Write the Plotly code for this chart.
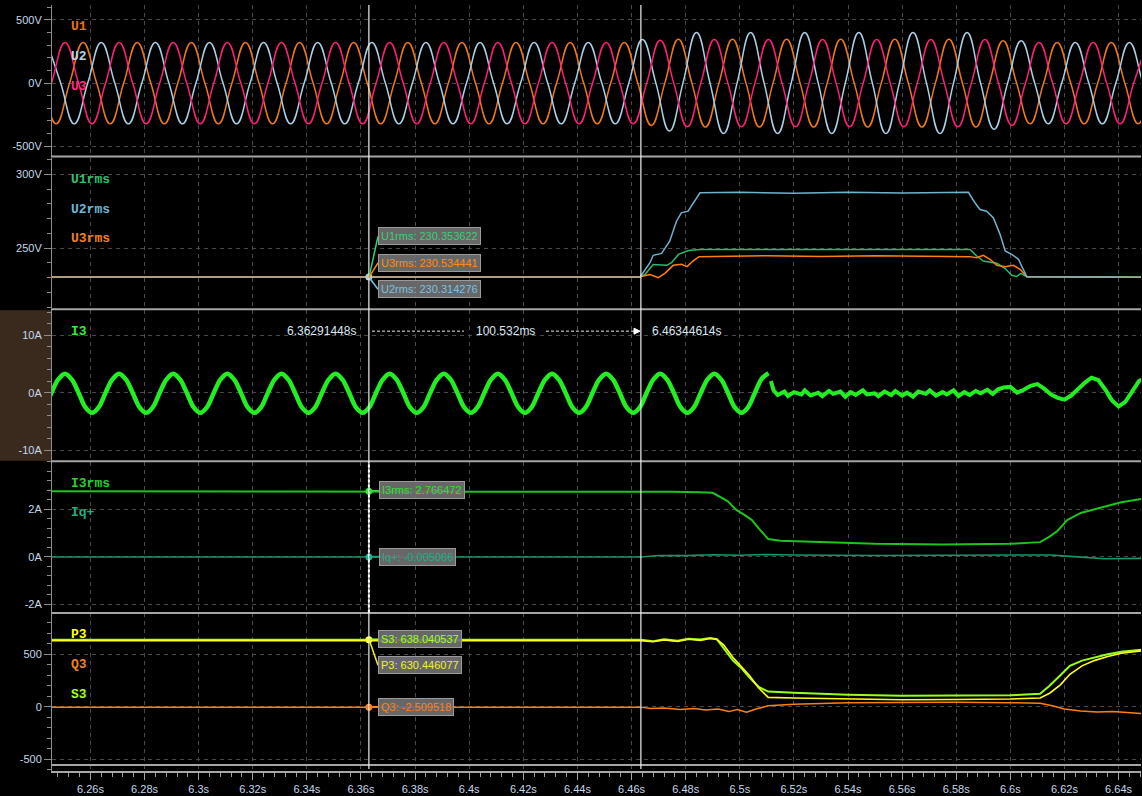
import plotly.graph_objects as go

# ======================= DATA =======================
x_range = [6.245795, 6.648293]
x_tick_vals = [6.26, 6.28, 6.30, 6.32, 6.34, 6.36, 6.38, 6.40, 6.42, 6.44,
               6.46, 6.48, 6.50, 6.52, 6.54, 6.56, 6.58, 6.60, 6.62, 6.64]
x_tick_text = ["6.26s", "6.28s", "6.3s", "6.32s", "6.34s", "6.36s", "6.38s", "6.4s", "6.42s", "6.44s",
               "6.46s", "6.48s", "6.5s", "6.52s", "6.54s", "6.56s", "6.58s", "6.6s", "6.62s", "6.64s"]

cursor_a = 6.36291448
cursor_b = 6.46344614
cursor_a_label = "6.36291448s"
cursor_b_label = "6.46344614s"
cursor_delta_label = "100.532ms"

half_cycle = 0.01  # time between successive half-cycle peaks (50 Hz)

# phase voltages: signed half-cycle peak values (V), first peak time given
u1_first_peak = 6.2373
u1_peaks = [322, -322, 322, -322, 322, -322, 322, -322, 322, -322, 322, -322,
            322, -322, 322, -322, 322, -322, 322, -322, 322, -322, 322,
            -335, 348, -348, 348, -348, 348, -348, 348, -348, 348, -348, 348, -348,
            335, -322, 322, -322, 322, -322, 322]
u2_first_peak = 6.2440
u2_peaks = [322, -322, 322, -322, 322, -322, 322, -322, 322, -322, 322,
            -322, 322, -322, 322, -322, 322, -322, 322, -322, 322, -322,
            345, -380, 400, -400, 400, -400, 400, -400, 400, -400, 400, -400, 400,
            -365, 335, -322, 322, -322, 322, -322, 322]
u3_first_peak = 6.2306
u3_peaks = [322, -322, 322, -322, 322, -322, 322, -322, 322, -322, 322, -322,
            322, -322, 322, -322, 322, -322, 322, -322, 322, -322, 322, -322,
            340, -345, 345, -345, 345, -345, 345, -345, 345, -345, 345, -345, 345,
            -335, 322, -322, 322, -322, 322]

# phase current I3 (A), read every 2.5 ms from the first rising zero crossing
i3_start = 6.2256
i3_step = 0.0025
i3_values = [0, 2.3, 3.3, 2.3, 0, -2.5, -3.5, -2.5,
             0, 2.3, 3.3, 2.3, 0, -2.5, -3.5, -2.5,
             0, 2.3, 3.3, 2.3, 0, -2.5, -3.5, -2.5,
             0, 2.3, 3.3, 2.3, 0, -2.5, -3.5, -2.5,
             0, 2.3, 3.3, 2.3, 0, -2.5, -3.5, -2.5,
             0, 2.3, 3.3, 2.3, 0, -2.5, -3.5, -2.5,
             0, 2.3, 3.3, 2.3, 0, -2.5, -3.5, -2.5,
             0, 2.3, 3.3, 2.3, 0, -2.5, -3.5, -2.5,
             0, 2.3, 3.3, 2.3, 0, -2.5, -3.5, -2.5,
             0, 2.3, 3.3, 2.3, 0, -2.5, -3.5, -2.5,
             0, 2.3, 3.3, 2.3, 0, -2.5, -3.5, -2.5,
             0, 2.3, 3.3, 2.3, 0, -2.5, -3.5, -2.5,
             0, 2.3, 3.3, 2.3, 0, -2.5, -3.5, -2.5,
             0, 2.3, 3.3, 2.3, 0, -2.5, -3.5, -2.5,
             0, 2.4, 3.4]
i3_tail_t = [6.5115, 6.5125, 6.5140, 6.5165, 6.5178, 6.5200, 6.5228, 6.5240, 6.5262, 6.5290,
             6.5305, 6.5330, 6.5345, 6.5372, 6.5390, 6.5410, 6.5428, 6.5455, 6.5470, 6.5498,
             6.5512, 6.5535, 6.5560, 6.5575, 6.5600, 6.5618, 6.5640, 6.5660, 6.5688, 6.5702,
             6.5725, 6.5750, 6.5765, 6.5790, 6.5808, 6.5830, 6.5850, 6.5872, 6.5890, 6.5915,
             6.5935, 6.5955, 6.5975, 6.6000, 6.6025, 6.6050, 6.6075, 6.6100,
             6.6125, 6.6150, 6.6175, 6.6200, 6.6225, 6.6250, 6.6275, 6.6300, 6.6325, 6.6350,
             6.6375, 6.6400, 6.6425, 6.6450, 6.6475, 6.6500]
i3_tail_v = [2.0, 0.4, -0.4, 0.2, -0.6, 0.1, -0.3, 0.4, -0.5, 0.0,
             -0.6, 0.3, -0.2, 0.2, -0.7, 0.1, -0.4, 0.4, -0.3, -0.1,
             -0.6, 0.2, -0.4, 0.3, -0.5, 0.0, -0.7, 0.2, -0.2, 0.4,
             -0.5, 0.1, -0.3, 0.4, -0.6, 0.1, -0.4, 0.3, -0.1, 0.5,
             -0.2, 0.6, 0.9, 1.0, 0.0, 0.5, 1.2, 1.5,
             0.7, -0.3, -0.9, -1.2, -0.5, 0.7, 1.7, 2.6, 2.2, 0.6,
             -1.3, -2.4, -1.6, 0.2, 2.0, 2.6]

# RMS voltages (V)
u1rms_t = [6.2450, 6.4631, 6.4650, 6.4680, 6.4730, 6.4748, 6.4773, 6.4810, 6.4853, 6.5851,
           6.5876, 6.5900, 6.5950, 6.5981, 6.6005, 6.6024, 6.6039, 6.6061, 6.6500]
u1rms_v = [230.35, 230.35, 232.2, 238.8, 238.3, 240.1, 245.7, 248.4, 249.1, 249.1,
           244.6, 241.2, 239.7, 236.1, 231.6, 230.7, 232.9, 230.5, 230.4]
u2rms_t = [6.2450, 6.4631, 6.4668, 6.4680, 6.4711, 6.4741, 6.4766, 6.4784, 6.4809, 6.4834,
           6.4853, 6.5000, 6.5200, 6.5400, 6.5600, 6.5845, 6.5869, 6.5888, 6.5912, 6.5937,
           6.5962, 6.5981, 6.6005, 6.6030, 6.6048, 6.6061, 6.6500]
u2rms_v = [230.31, 230.31, 240.1, 245.1, 246.4, 254.7, 268.2, 273.9, 275.0, 281.8,
           287.4, 287.8, 287.2, 287.8, 287.3, 287.8, 280.7, 276.1, 275.0, 270.5,
           259.3, 248.0, 245.7, 242.4, 235.6, 230.5, 230.3]
u3rms_t = [6.2450, 6.4631, 6.4668, 6.4699, 6.4723, 6.4754, 6.4784, 6.4805, 6.4827, 6.4849,
           6.5100, 6.5300, 6.5500, 6.5700, 6.5851, 6.5876, 6.5900, 6.5925, 6.5950, 6.5981,
           6.6011, 6.6036, 6.6061, 6.6500]
u3rms_v = [230.53, 230.53, 232.1, 230.0, 232.9, 238.3, 239.0, 237.4, 241.2, 244.2,
           244.8, 244.3, 244.8, 244.3, 244.2, 243.5, 245.1, 242.4, 238.3, 237.4,
           238.3, 235.6, 230.5, 230.3]

# RMS current and positive-sequence reactive current (A)
i3rms_t = [6.2450, 6.4634, 6.4750, 6.4850, 6.4900, 6.4955, 6.4985, 6.5020, 6.5045, 6.5070,
           6.5105, 6.5150, 6.5300, 6.5500, 6.5750, 6.6000, 6.6110, 6.6145, 6.6175, 6.6210,
           6.6260, 6.6310, 6.6360, 6.6410, 6.6500]
i3rms_v = [2.766, 2.766, 2.74, 2.72, 2.70, 2.35, 2.00, 1.75, 1.55, 1.20,
           0.75, 0.68, 0.62, 0.55, 0.52, 0.55, 0.62, 0.85, 1.10, 1.55,
           1.85, 2.00, 2.15, 2.30, 2.47]
iq_t = [6.2450, 6.4634, 6.4700, 6.4800, 6.4900, 6.5000, 6.5100, 6.5200, 6.5500, 6.5800,
        6.6000, 6.6150, 6.6250, 6.6350, 6.6500]
iq_v = [-0.005, -0.005, 0.06, 0.05, 0.09, 0.07, 0.10, 0.08, 0.06, 0.07,
        0.06, 0.08, 0.0, -0.08, -0.06]

# Power (W, var, VA)
pw_t = [6.2450, 6.4634, 6.4680, 6.4720, 6.4770, 6.4810, 6.4855, 6.4890, 6.4915, 6.4940,
        6.4975, 6.5005, 6.5035, 6.5070, 6.5105, 6.5200, 6.5400, 6.5600, 6.5800, 6.6000,
        6.6110, 6.6145, 6.6185, 6.6220, 6.6265, 6.6310, 6.6360, 6.6410, 6.6500]
s3_v = [638.04, 638.04, 625, 642, 630, 648, 640, 655, 645, 560,
        440, 370, 280, 190, 145, 135, 115, 105, 105, 110,
        125, 200, 300, 390, 440, 470, 500, 525, 548]
p3_v = [630.45, 630.45, 620, 637, 622, 643, 633, 650, 642, 590,
        470, 390, 300, 180, 90, 85, 75, 68, 70, 75,
        85, 130, 210, 310, 390, 440, 480, 510, 538]
q3_t = [6.2450, 6.4634, 6.4670, 6.4720, 6.4780, 6.4830, 6.4875, 6.4920, 6.4960, 6.4990,
        6.5025, 6.5060, 6.5105, 6.5200, 6.5400, 6.5600, 6.5800, 6.6000, 6.6110, 6.6155,
        6.6200, 6.6260, 6.6320, 6.6380, 6.6500]
q3_v = [-2.5, -2.5, -15, -10, -25, -15, -30, -20, -45, -25,
        -50, -20, 10, 25, 40, 45, 45, 40, 35, 10,
        -20, -40, -50, -45, -65]

# cursor readouts
readout_names = ["U1rms", "U3rms", "U2rms", "I3rms", "Iq+", "S3", "P3", "Q3"]
readout_values = [230.353622, 230.534441, 230.314276, 2.766472, -0.005066, 638.040537, 630.446077, -2.509518]

# panel axis ticks
panel_tick_vals = [[-500, 0, 500], [250, 300], [-10, 0, 10], [-2, 0, 2], [-500, 0, 500]]
panel_tick_text = [["-500V", "0V", "500V"], ["250V", "300V"], ["-10A", "0A", "10A"],
                   ["-2A", "0A", "2A"], ["-500", "0", "500"]]

# ======================= LAYOUT HELPERS =======================
W, H = 1142, 796
PL, PR, PT, PB = 52, 1141, 5, 773
panels_px = [(5, 156), (158, 309), (311, 462), (463, 614), (615, 773)]
# (value, pixel) calibration pairs for each panel
calib = [((500, 20.0), (0, 83.3)), ((300, 174.7), (250, 248.7)), ((10, 336.0), (0, 393.7)),
         ((2, 510.7), (0, 558.3)), ((500, 656.0), (0, 708.7))]
minor_dt = [100, 10, 2, 0.4, 100]


def fx(px):
    return (px - PL) / (PR - PL)


def fy(py):
    return (PB - py) / (PB - PT)


def yrange(i):
    (v1, p1), (v0, p0) = calib[i]
    k = (p0 - p1) / (v1 - v0)
    top, bot = panels_px[i]
    return [v0 - (bot - p0) / k, v0 + (p0 - top) / k]


def wave(first, peaks):
    xs, ys = [], []
    n = len(peaks)
    for k, p in enumerate(peaks):
        t = first + k * half_cycle
        xs.append(t)
        ys.append(p)
        if k < n - 1:
            xs.append(t + half_cycle / 2)
            ys.append(0)
    return xs, ys


AX = "#8c8c8c"
GRID = "#4a4a4a"
TICKC = "#c6d8ec"

fig = go.Figure()


def add(xs, ys, color, width, panel, shape="linear", smooth=1.0):
    line = dict(color=color, width=width, shape=shape)
    if shape == "spline":
        line["smoothing"] = smooth
    fig.add_trace(go.Scatter(x=xs, y=ys, mode="lines", line=line,
                             xaxis="x" if panel == 1 else f"x{panel}",
                             yaxis="y" if panel == 1 else f"y{panel}",
                             hoverinfo="skip"))


# panel 1: voltages
for first, peaks, col in [(u1_first_peak, u1_peaks, "#f07818"),
                          (u2_first_peak, u2_peaks, "#a8d0e6"),
                          (u3_first_peak, u3_peaks, "#ff1e78")]:
    xs, ys = wave(first, peaks)
    add(xs, ys, col, 1.5, 1, "spline", 1.3)

# panel 2: rms voltages
add(u1rms_t, u1rms_v, "#2fb86a", 1.5, 2)
add(u3rms_t, u3rms_v, "#ff7f10", 1.5, 2)
add(u2rms_t, u2rms_v, "#6fb3cf", 1.5, 2)

# panel 3: current (sinusoidal part + noisy tail)
i3_t = [i3_start + k * i3_step for k in range(len(i3_values))]
add(i3_t, i3_values, "#22ee22", 4.5, 3, "spline", 1.0)
add(i3_tail_t, i3_tail_v, "#22ee22", 4, 3)

# panel 4
add(i3rms_t, i3rms_v, "#1cc41c", 2, 4)
add(iq_t, iq_v, "#0f9a6a", 1.6, 4)

# panel 5
add(q3_t, q3_v, "#ff7f0e", 1.5, 5)
add(pw_t, s3_v, "#96ff1a", 2, 5)
add(pw_t, p3_v, "#ffff1a", 1.6, 5)

# cursor markers
marker_specs = [(2, readout_values[0], "#a8d0e6"), (4, readout_values[3], "#30e030"),
                (4, readout_values[4], "#18b088"), (5, readout_values[5], "#ffff40"),
                (5, readout_values[7], "#ff8020")]
for panel, val, col in marker_specs:
    fig.add_trace(go.Scatter(x=[cursor_a], y=[val], mode="markers",
                             marker=dict(color=col, size=7),
                             xaxis=f"x{panel}", yaxis=f"y{panel}", hoverinfo="skip"))

layout = dict(width=W, height=H, paper_bgcolor="black", plot_bgcolor="black",
              margin=dict(l=PL, r=W - PR, t=PT, b=H - PB), showlegend=False,
              font=dict(family="Liberation Sans, Arial", size=11, color=TICKC))

for i in range(5):
    n = i + 1
    xk = "xaxis" if n == 1 else f"xaxis{n}"
    yk = "yaxis" if n == 1 else f"yaxis{n}"
    top, bot = panels_px[i]
    xa = dict(domain=[0, 1], range=x_range, anchor="y" if n == 1 else f"y{n}",
              tickmode="array", tickvals=x_tick_vals, showgrid=True, gridcolor=GRID,
              griddash="4px,4px", gridwidth=1, zeroline=False, fixedrange=True)
    if n == 5:
        xa.update(ticktext=x_tick_text, showticklabels=True, ticks="outside", ticklen=7,
                  tickwidth=1, tickcolor="#a0a0a0", showline=True, linecolor="#a8a8a8",
                  linewidth=2, tickfont=dict(size=11, color=TICKC),
                  minor=dict(dtick=0.004, tick0=6.24, ticks="outside", ticklen=4,
                             tickcolor="#a0a0a0", showgrid=False))
    else:
        xa.update(showticklabels=False, ticks="", showline=False)
    layout[xk] = xa
    layout[yk] = dict(domain=[fy(bot), fy(top)], range=yrange(i), anchor="x" if n == 1 else f"x{n}",
                      tickmode="array", tickvals=panel_tick_vals[i], ticktext=panel_tick_text[i],
                      showgrid=True, gridcolor=GRID, griddash="4px,4px", gridwidth=1,
                      zeroline=False, ticks="outside", ticklen=7, tickwidth=1, tickcolor=AX,
                      showline=True, linecolor=AX, linewidth=1, fixedrange=True,
                      tickfont=dict(size=11, color=TICKC),
                      minor=dict(dtick=minor_dt[i], tick0=0, ticks="outside", ticklen=4,
                                 tickcolor=AX, showgrid=False))

fig.update_layout(**layout)

shapes = []
# brown background left of the active panel (I3)
shapes.append(dict(type="rect", xref="paper", yref="paper", x0=fx(0), x1=fx(51), y0=fy(462), y1=fy(311),
                   fillcolor="#3a2a1e", line=dict(width=0), layer="below"))
# panel separators
for py in [157, 310, 462.5, 614.5, 767]:
    shapes.append(dict(type="line", xref="paper", yref="paper", x0=fx(51), x1=1, y0=fy(py), y1=fy(py),
                       line=dict(color="#a6a6a6", width=2)))
# cursors
for cx in [cursor_a, cursor_b]:
    shapes.append(dict(type="line", xref="x", yref="paper", x0=cx, x1=cx, y0=fy(771), y1=fy(5),
                       line=dict(color="#f0f0f0", width=1.2)))
shapes.append(dict(type="line", xref="x", yref="paper", x0=cursor_a, x1=cursor_a, y0=fy(614), y1=fy(463),
                   line=dict(color="#ffffff", width=2, dash="3px,2px")))
# delta measurement arrow in I3 panel
shapes.append(dict(type="line", xref="paper", yref="paper", x0=fx(372), x1=fx(464), y0=fy(332), y1=fy(332),
                   line=dict(color="#e8e8e8", width=1, dash="3px,2px")))
shapes.append(dict(type="line", xref="paper", yref="paper", x0=fx(546), x1=fx(635), y0=fy(332), y1=fy(332),
                   line=dict(color="#e8e8e8", width=1, dash="3px,2px")))
shapes.append(dict(type="path", xref="paper", yref="paper",
                   path=f"M {fx(634)} {fy(329)} L {fx(640)} {fy(332)} L {fx(634)} {fy(335)} Z",
                   fillcolor="#ffffff", line=dict(color="#ffffff", width=1)))
# readout leader lines
leaders = [((369, 278), (378, 237), "#3ccf78"), ((369, 278), (378, 263.5), "#ff8c1a"),
           ((369, 278), (378, 290), "#7cc0e0"), ((369, 492), (379, 492), "#30e030"),
           ((369, 558), (379, 558), "#18b088"), ((369, 641), (378, 641), "#9cff30"),
           ((369, 641), (378, 667), "#f0f030"), ((369, 708.5), (378, 708.5), "#ff8020")]
for (x0, y0), (x1, y1), col in leaders:
    shapes.append(dict(type="line", xref="paper", yref="paper", x0=fx(x0), x1=fx(x1), y0=fy(y0), y1=fy(y1),
                       line=dict(color=col, width=1.5)))
fig.update_layout(shapes=shapes)

ann = []
label_specs = [("U1", 27, "#e8701a"), ("U2", 57, "#b4d4e8"), ("U3", 87, "#ff2a80"),
               ("U1rms", 180, "#2fc070"), ("U2rms", 210, "#6bb6d6"), ("U3rms", 239, "#f08020"),
               ("I3", 332, "#30f030"),
               ("I3rms", 485, "#28d028"), ("Iq+", 514, "#20b080"),
               ("P3", 636, "#ffff20"), ("Q3", 666, "#f08020"), ("S3", 696, "#a0ff20")]
for txt, py, col in label_specs:
    ann.append(dict(text=f"<b>{txt}</b>", xref="paper", yref="paper", x=fx(69), y=fy(py),
                    xanchor="left", yanchor="middle", showarrow=False,
                    font=dict(family="Liberation Mono, Courier New", size=13, color=col)))

box_pos = [(378, 237), (378, 263.5), (378, 290), (379, 491.5), (379, 558), (378, 640.5), (378, 667), (378, 708.5)]
box_col = ["#3ccf78", "#ff8c1a", "#7cc0e0", "#30e030", "#18b088", "#9cff30", "#f0f030", "#ff8020"]
for name, val, (bx, by), col in zip(readout_names, readout_values, box_pos, box_col):
    ann.append(dict(text=f"{name}: {val:.6f}", xref="paper", yref="paper", x=fx(bx), y=fy(by),
                    xanchor="left", yanchor="middle", showarrow=False,
                    bgcolor="rgba(112,112,112,0.92)", bordercolor="#9a9a9a", borderwidth=1, borderpad=2,
                    font=dict(family="Liberation Sans, Arial", size=11, color=col)))

ann.append(dict(text=cursor_a_label, xref="paper", yref="paper", x=fx(358), y=fy(332),
                xanchor="right", yanchor="middle", showarrow=False,
                font=dict(family="Liberation Sans, Arial", size=12, color="#dce8f4")))
ann.append(dict(text=cursor_delta_label, xref="paper", yref="paper", x=fx(505), y=fy(332),
                xanchor="center", yanchor="middle", showarrow=False,
                font=dict(family="Liberation Sans, Arial", size=12, color="#dce8f4")))
ann.append(dict(text=cursor_b_label, xref="paper", yref="paper", x=fx(650), y=fy(332),
                xanchor="left", yanchor="middle", showarrow=False,
                font=dict(family="Liberation Sans, Arial", size=12, color="#dce8f4")))
fig.update_layout(annotations=ann)

fig.write_html("out.html", config={"displayModeBar": False},
               post_script="document.body.style.margin='0';document.body.style.background='black';")
